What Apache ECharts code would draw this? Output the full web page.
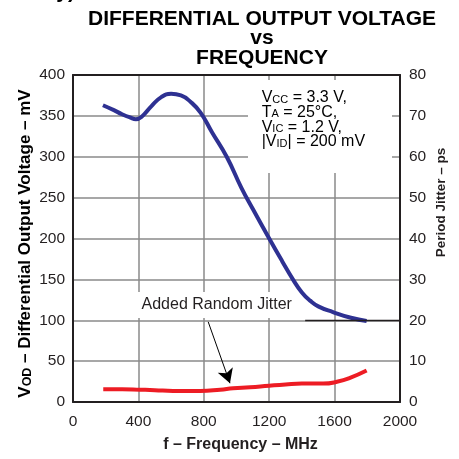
<!DOCTYPE html>
<html><head><meta charset="utf-8">
<script src="https://cdn.jsdelivr.net/npm/echarts@6/dist/echarts.min.js"></script>
<style>html,body{margin:0;padding:0;background:#fff}#c{width:459px;height:459px}</style>
</head><body><div id="c"></div>
<script>
const FONT = "'Liberation Sans', Arial, sans-serif";

// ---- data ----
const titleLines = ['DIFFERENTIAL OUTPUT VOLTAGE', 'vs', 'FREQUENCY'];
const xName = 'f \u2013 Frequency \u2013 MHz';
const yLeftName = ['V', 'OD', ' \u2013 Differential Output Voltage \u2013 mV'];
const yRightName = 'Period Jitter \u2013 ps';
const jitterLabel = 'Added Random Jitter';
const conditions = [
  ['V', 'CC', ' = 3.3 V,'],
  ['T', 'A', ' = 25\u00B0C,'],
  ['V', 'IC', ' = 1.2 V,'],
  ['|V', 'ID', '| = 200 mV']
];
const freqAxis = { min: 0, max: 2000, step: 400 };
const vodAxis = { min: 0, max: 400, step: 50 };
const jitterAxis = { min: 0, max: 80, step: 10 };

// VOD (mV) vs frequency (MHz)
const vodFreq   = [183, 250, 300, 350, 385, 420, 480, 540, 600, 660, 720, 780, 850, 940, 1030, 1100, 1200, 1280, 1345, 1400, 1450, 1500, 1590, 1700, 1796];
const vodValues = [363, 357, 352, 348, 346, 349, 362, 373, 377, 375, 367, 354, 330, 300, 262, 236, 200, 172, 150, 134, 124, 117, 110, 103, 99];

// Period jitter (ps) vs frequency (MHz)
const jitterFreq   = [185, 300, 410, 500, 612, 777, 900, 979, 1083, 1200, 1300, 1400, 1530, 1620, 1694, 1796];
const jitterValues = [3.1, 3.1, 3.0, 2.9, 2.7, 2.7, 3.0, 3.35, 3.6, 4.0, 4.3, 4.5, 4.5, 5.0, 5.9, 7.7];

// arrow of the "Added Random Jitter" callout, in data units (MHz, mV)
const arrowFrom = [827, 98];
const arrowTo = [960, 23];
// dark segment on the 20 ps line (MHz, ps)
const darkSegment = [[1420, 20], [2000, 20]];

const vodData = vodFreq.map((f, i) => [f, vodValues[i]]);
const jitterData = jitterFreq.map((f, i) => [f, jitterValues[i]]);

const chart = echarts.init(document.getElementById('c'), null, { renderer: 'canvas' });

const INK = '#231f20';
const GRID = '#8a8a8a';
function labelStyle(margin) {
  return { show: true, margin: margin, color: INK, fontSize: 15.5, fontFamily: FONT, formatter: v => String(v) };
}
function frameLine() { return { show: true, onZero: false, lineStyle: { color: INK, width: 2 } }; }
function gridLine() { return { show: true, showMinLine: false, showMaxLine: false, lineStyle: { color: GRID, width: 1.5, type: 'solid' } }; }
function noTick() { return { show: true, length: 0, lineStyle: { width: 0, color: 'rgba(0,0,0,0)' } }; }

const condRich = {
  n: { fontSize: 16, fontFamily: FONT, color: INK, lineHeight: 14.7 },
  s: { fontSize: 11, fontFamily: FONT, color: INK, lineHeight: 5, verticalAlign: 'bottom' }
};
const condText = conditions.map(c => '{n|' + c[0] + '}{s|' + c[1] + '}{n|' + c[2] + '}').join('\n');

chart.setOption({
  animation: false,
  backgroundColor: '#fff',
  grid: { left: 73, right: 59, top: 75, bottom: 57, containLabel: false },
  xAxis: [
    {
      type: 'value', min: freqAxis.min, max: freqAxis.max, interval: freqAxis.step, position: 'bottom',
      axisLine: frameLine(), axisTick: noTick(),
      axisLabel: labelStyle(12),
      splitLine: gridLine()
    },
    {
      type: 'value', min: freqAxis.min, max: freqAxis.max, interval: freqAxis.step, position: 'top',
      axisLine: frameLine(), axisTick: { show: false }, axisLabel: { show: false }, splitLine: { show: false }
    }
  ],
  yAxis: [
    {
      type: 'value', min: vodAxis.min, max: vodAxis.max, interval: vodAxis.step, position: 'left',
      axisLine: frameLine(), axisTick: noTick(),
      axisLabel: labelStyle(8),
      splitLine: gridLine()
    },
    {
      type: 'value', min: jitterAxis.min, max: jitterAxis.max, interval: jitterAxis.step, position: 'right',
      axisLine: frameLine(), axisTick: { show: false },
      axisLabel: labelStyle(9),
      splitLine: { show: false }
    }
  ],
  series: [
    {
      type: 'line', xAxisIndex: 0, yAxisIndex: 0, data: vodData, smooth: 0.5, showSymbol: false, symbol: 'none',
      lineStyle: { color: '#2e3192', width: 4 }, z: 3,
      markLine: {
        silent: true, symbol: ['none', 'arrow'], symbolSize: [12, 14],
        label: { show: false },
        lineStyle: { color: '#000', width: 1, type: 'solid' },
        data: [[{ coord: arrowFrom }, { coord: arrowTo }]]
      }
    },
    {
      type: 'line', xAxisIndex: 0, yAxisIndex: 1, data: jitterData, smooth: 0.5, showSymbol: false, symbol: 'none',
      lineStyle: { color: '#ed1c24', width: 4 }, z: 3,
      markLine: {
        silent: true, symbol: ['none', 'none'],
        label: { show: false },
        lineStyle: { color: INK, width: 1.3, type: 'solid' },
        data: [[{ coord: darkSegment[0] }, { coord: darkSegment[1] }]]
      }
    }
  ],
  graphic: [
    { type: 'text', x: 75, y: -8, z: 5, style: { text: 'ency)', font: 'bold 21px ' + FONT, fill: '#000', align: 'right', verticalAlign: 'middle' } },
    { type: 'text', x: 262, y: 9, z: 5, style: { text: titleLines.join('\n'), font: 'bold 21px ' + FONT, fill: '#000', align: 'center', verticalAlign: 'top', lineHeight: 19.5 } },
    { type: 'rect', z: 1, shape: { x: 248, y: 80, width: 144, height: 93 }, style: { fill: '#fff' } },
    { type: 'text', x: 261.7, y: 90.5, z: 5, style: { text: condText, rich: condRich, align: 'left', verticalAlign: 'top' } },
    { type: 'rect', z: 1, shape: { x: 128, y: 292, width: 177, height: 26 }, style: { fill: '#fff' } },
    { type: 'text', x: 216.7, y: 305, z: 5, style: { text: jitterLabel, font: '16px ' + FONT, fill: INK, align: 'center', verticalAlign: 'middle' } },
    { type: 'text', x: 240.5, y: 445, z: 5, style: { text: xName, font: 'bold 16px ' + FONT, fill: INK, align: 'center', verticalAlign: 'middle' } },
    { type: 'text', x: 25, y: 243.5, rotation: Math.PI / 2, z: 5, style: {
        text: '{b|' + yLeftName[0] + '}{bs|' + yLeftName[1] + '}{b|' + yLeftName[2] + '}',
        rich: {
          b: { fontSize: 17, fontWeight: 'bold', fontFamily: FONT, color: INK, lineHeight: 18 },
          bs: { fontSize: 12.5, fontWeight: 'bold', fontFamily: FONT, color: INK, lineHeight: 5, verticalAlign: 'bottom' }
        },
        align: 'center', verticalAlign: 'middle' } },
    { type: 'text', x: 441.7, y: 202.5, rotation: Math.PI / 2, z: 5, style: { text: yRightName, font: 'bold 13.5px ' + FONT, fill: INK, align: 'center', verticalAlign: 'middle' } }
  ]
});
</script>
</body></html>
